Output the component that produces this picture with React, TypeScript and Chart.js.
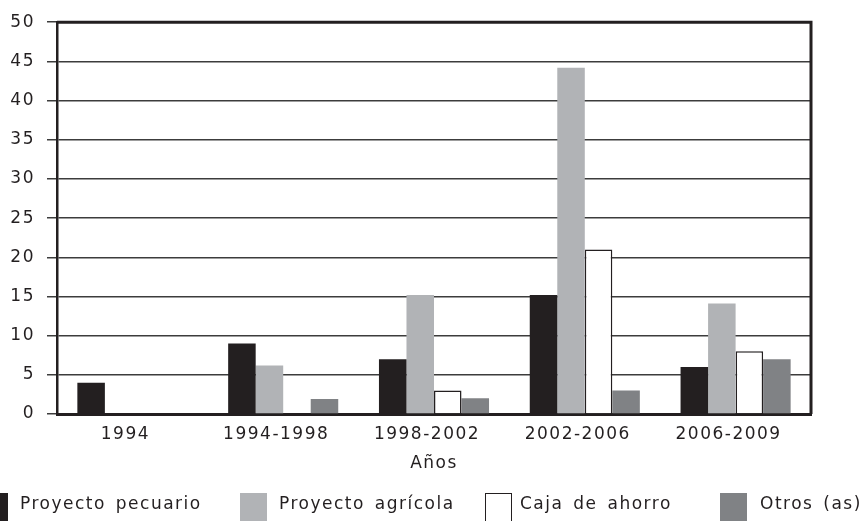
import React, { useEffect, useRef } from "react";
import { Chart, registerables } from "chart.js";

Chart.register(...registerables);

const categories = ["1994", "1994-1998", "1998-2002", "2002-2006", "2006-2009"];
const pecuario = [4, 9, 7, 15.2, 6];
const agricola = [null, 6.2, 15.2, 44.2, 14.1];
const cajaAhorro = [null, null, 3, 21, 8];
const otros = [null, 1.9, 2, 3, 7];
const yTicks = [0, 5, 10, 15, 20, 25, 30, 35, 40, 45, 50];

const FONT = "'DejaVu Sans', sans-serif";
const BLACK = "#231f20";
const LIGHT = "#b1b3b6";
const DARK = "#808285";

const legendItems = [
  { label: "Proyecto pecuario", color: BLACK, border: false, boxLeft: -19, textLeft: 20 },
  { label: "Proyecto agrícola", color: LIGHT, border: false, boxLeft: 240, textLeft: 279 },
  { label: "Caja de ahorro", color: "#ffffff", border: true, boxLeft: 485, textLeft: 520 },
  { label: "Otros (as)", color: DARK, border: false, boxLeft: 720, textLeft: 760 },
];

const spacingPlugin = {
  id: "spacing",
  beforeUpdate(chart: any) {
    chart.ctx.letterSpacing = "1.5px";
  },
  beforeLayout(chart: any) {
    chart.ctx.letterSpacing = "1.5px";
  },
  beforeDraw(chart: any) {
    chart.ctx.letterSpacing = "1.5px";
  },
  afterDraw(chart: any) {
    const { ctx, chartArea } = chart;
    ctx.save();
    ctx.strokeStyle = BLACK;
    ctx.lineWidth = 3;
    ctx.beginPath();
    ctx.moveTo(chartArea.left, chartArea.top);
    ctx.lineTo(chartArea.right, chartArea.top);
    ctx.lineTo(chartArea.right, chartArea.bottom);
    ctx.stroke();
    ctx.restore();
  },
};

export default function App() {
  const ref = useRef<HTMLCanvasElement | null>(null);

  useEffect(() => {
    if (!ref.current) return;
    const chart = new Chart(ref.current, {
      type: "bar",
      data: {
        labels: categories,
        datasets: [
          { label: "Proyecto pecuario", data: pecuario, backgroundColor: BLACK, borderWidth: 0 },
          { label: "Proyecto agrícola", data: agricola, backgroundColor: LIGHT, borderWidth: 0 },
          {
            label: "Caja de ahorro",
            data: cajaAhorro,
            backgroundColor: "#ffffff",
            borderColor: BLACK,
            borderWidth: 1.5,
          },
          { label: "Otros (as)", data: otros, backgroundColor: DARK, borderWidth: 0 },
        ],
      },
      options: {
        responsive: false,
        animation: false,
        devicePixelRatio: 1,
        datasets: { bar: { categoryPercentage: 0.73, barPercentage: 1 } },
        layout: { padding: { top: 21, right: 56, bottom: 43, left: 0 } },
        plugins: { legend: { display: false }, tooltip: { enabled: false } },
        scales: {
          x: {
            grid: { display: false, drawTicks: false },
            border: { display: true, color: BLACK, width: 3 },
            ticks: {
              color: BLACK,
              font: { family: FONT, size: 17 },
              padding: 10,
              labelOffset: -7,
              maxRotation: 0,
            },
            title: {
              display: true,
              text: "Años",
              color: BLACK,
              font: { family: FONT, size: 17 },
              padding: { top: 4, bottom: 4 },
            },
            afterFit(scale: any) {
              scale.height = 64;
            },
          },
          y: {
            min: 0,
            max: 50,
            afterBuildTicks(scale: any) {
              scale.ticks = yTicks.map((v) => ({ value: v }));
            },
            grid: { color: "#3c3c3c", lineWidth: 1.5, tickLength: 10, drawTicks: true, tickColor: "#3c3c3c" },
            border: { display: true, color: BLACK, width: 2.5 },
            ticks: {
              color: BLACK,
              font: { family: FONT, size: 17 },
              padding: 12,
            },
            afterFit(scale: any) {
              scale.width = 57;
            },
          },
        },
      },
      plugins: [spacingPlugin],
    });
    return () => chart.destroy();
  }, []);

  return (
    <div
      style={{
        position: "fixed",
        left: 0,
        top: 0,
        width: 867,
        height: 521,
        overflow: "hidden",
        background: "#ffffff",
        fontFamily: FONT,
      }}
    >
      <canvas ref={ref} width={867} height={521} style={{ position: "absolute", left: 0, top: 0 }} />
      {legendItems.map((it) => (
        <React.Fragment key={it.label}>
          <div
            style={{
              position: "absolute",
              left: it.boxLeft,
              top: 493,
              width: it.border ? 25 : 27,
              height: 32,
              background: it.color,
              border: it.border ? `1.5px solid ${BLACK}` : "none",
            }}
          />
          <div
            style={{
              position: "absolute",
              left: it.textLeft,
              top: 494.6,
              fontSize: 17,
              lineHeight: "17px",
              letterSpacing: "1.5px",
              wordSpacing: "3px",
              color: BLACK,
              whiteSpace: "nowrap",
            }}
          >
            {it.label}
          </div>
        </React.Fragment>
      ))}
    </div>
  );
}
